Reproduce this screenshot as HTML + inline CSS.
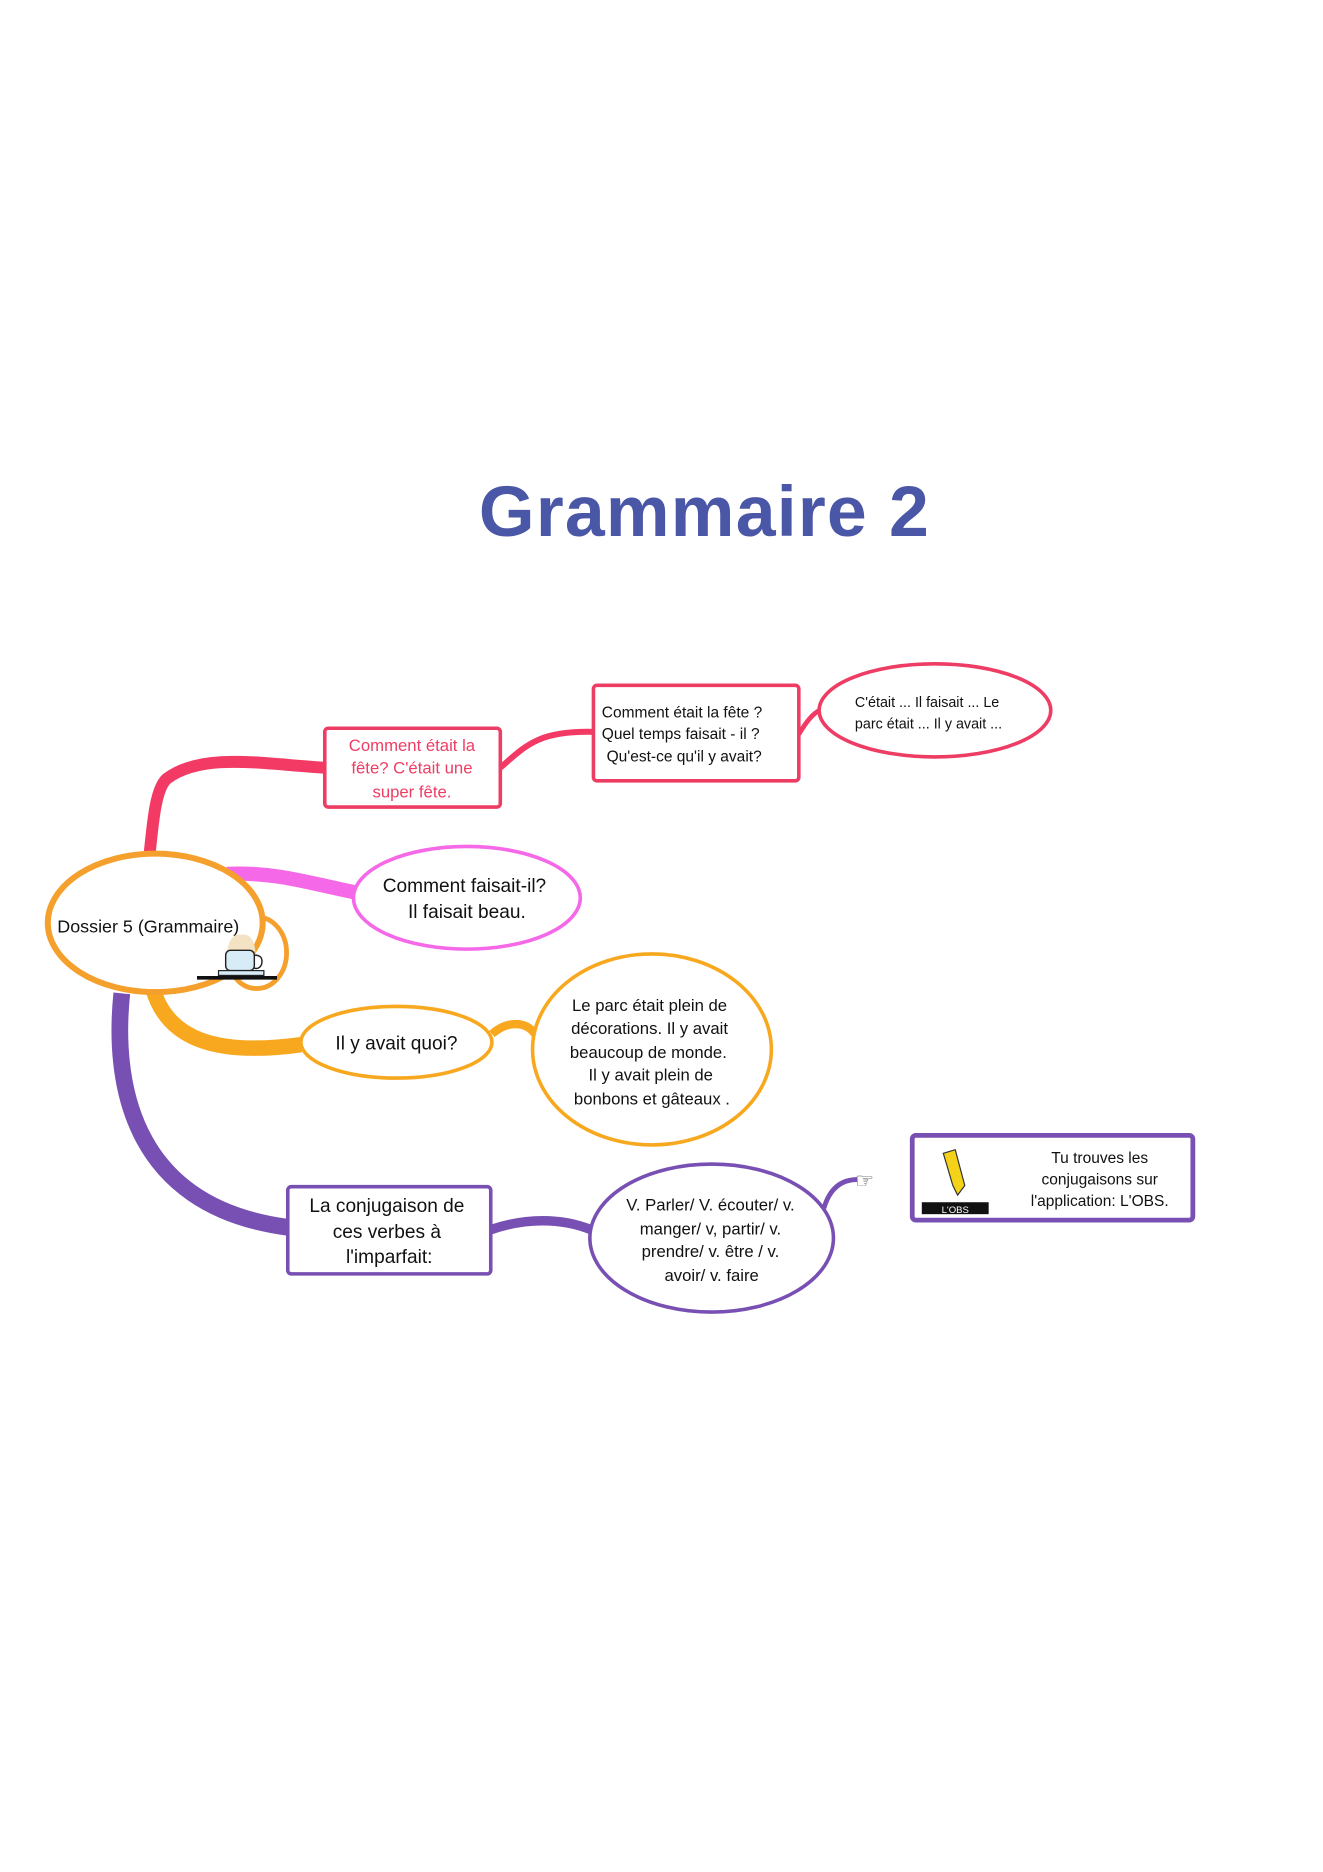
<!DOCTYPE html>
<html><head><meta charset="utf-8"><style>
html,body{margin:0;padding:0;background:#fff}
svg{display:block}
text{font-family:"Liberation Sans",sans-serif}
</style></head><body>
<svg width="1323" height="1872" viewBox="0 0 1108 1568" preserveAspectRatio="none" xmlns="http://www.w3.org/2000/svg">
<rect width="1108" height="1568" fill="#fff"/>
<text x="590" y="449" text-anchor="middle" font-size="60" font-weight="bold" fill="#4a56a6" letter-spacing="1">Grammaire 2</text>

<path d="M125,718 C128,690 130,660 140,652 C170,630 220,640 272,643" stroke="#f23a64" stroke-width="10" fill="none"/>
<path d="M419,643 C440,625 450,612 497,613" stroke="#f23a64" stroke-width="5" fill="none"/>
<path d="M669,615 C675,605 680,598 688,594" stroke="#f23a64" stroke-width="4" fill="none"/>
<path d="M190,732 C230,730 260,740 300,748" stroke="#f568e8" stroke-width="12" fill="none"/>
<path d="M128,828 C140,870 180,885 252,875" stroke="#f8a81e" stroke-width="13" fill="none"/>
<path d="M412,866 C425,855 440,855 448,866" stroke="#f8a81e" stroke-width="7" fill="none"/>
<path d="M102,832 C95,900 105,1010 241,1028" stroke="#7850b3" stroke-width="14" fill="none"/>
<path d="M411,1030 C440,1020 470,1020 495,1030" stroke="#7850b3" stroke-width="8" fill="none"/>
<path d="M690,1012 C695,995 705,988 718,988" stroke="#7850b3" stroke-width="4" fill="none"/>

<ellipse cx="215" cy="798" rx="25" ry="30" fill="#fff" stroke="#f5a02c" stroke-width="4"/>
<ellipse cx="130" cy="773" rx="90" ry="58" fill="#fff" stroke="#f5a02c" stroke-width="5"/>
<text x="48" y="781" font-size="15" fill="#111">Dossier 5 (Grammaire)</text>
<g>
<path d="M190,797 q3,-16 12,-14 q10,-2 12,14 z" fill="#f3e3c4"/>
<rect x="189" y="796" width="24" height="17" rx="4" fill="#d8ecf8" stroke="#222" stroke-width="1.2"/>
<path d="M213,800 q8,0 6,8 q-2,4 -6,3" fill="none" stroke="#222" stroke-width="1.2"/>
<rect x="183" y="813" width="38" height="4" fill="#d8ecf8" stroke="#222" stroke-width="1"/>
<line x1="165" y1="819" x2="232" y2="819" stroke="#111" stroke-width="3"/>
</g>

<rect x="272" y="610" width="147" height="66" rx="3" fill="#fff" stroke="#ee3d64" stroke-width="3"/>
<text font-size="14" fill="#ee3d64" text-anchor="middle"><tspan x="345" y="629">Comment était la</tspan><tspan x="345" y="648">fête? C'était une</tspan><tspan x="345" y="668">super fête.</tspan></text>
<rect x="497" y="574" width="172" height="80" rx="3" fill="#fff" stroke="#ee3d64" stroke-width="3"/>
<text font-size="13" fill="#111"><tspan x="504" y="601">Comment était la fête ?</tspan><tspan x="504" y="619">Quel temps faisait - il ?</tspan><tspan x="508" y="638">Qu'est-ce qu'il y avait?</tspan></text>
<ellipse cx="783" cy="595" rx="97" ry="39" fill="#fff" stroke="#ee3d64" stroke-width="3"/>
<text font-size="12" fill="#111"><tspan x="716" y="592">C'était ... Il faisait ... Le</tspan><tspan x="716" y="610">parc était ... Il y avait ...</tspan></text>

<ellipse cx="391" cy="752" rx="95" ry="43" fill="#fff" stroke="#f568e8" stroke-width="3"/>
<text font-size="16" fill="#111" text-anchor="middle"><tspan x="389" y="747">Comment faisait-il?</tspan><tspan x="391" y="769">Il faisait beau.</tspan></text>

<ellipse cx="332" cy="873" rx="80" ry="30" fill="#fff" stroke="#f8a81e" stroke-width="3"/>
<text x="332" y="879" font-size="16" fill="#111" text-anchor="middle">Il y avait quoi?</text>
<ellipse cx="546" cy="879" rx="100" ry="80" fill="#fff" stroke="#f8a81e" stroke-width="3"/>
<text font-size="14" fill="#111" text-anchor="middle"><tspan x="544" y="847">Le parc était plein de</tspan><tspan x="544" y="866">décorations. Il y avait</tspan><tspan x="543" y="886">beaucoup de monde.</tspan><tspan x="545" y="905">Il y avait plein de</tspan><tspan x="546" y="925">bonbons et gâteaux .</tspan></text>

<rect x="241" y="994" width="170" height="73" rx="3" fill="#fff" stroke="#7850b3" stroke-width="3"/>
<text font-size="16" fill="#111" text-anchor="middle"><tspan x="324" y="1015">La conjugaison de</tspan><tspan x="324" y="1037">ces verbes à</tspan><tspan x="326" y="1058">l'imparfait:</tspan></text>
<ellipse cx="596" cy="1037" rx="102" ry="62" fill="#fff" stroke="#7850b3" stroke-width="3"/>
<text font-size="14" fill="#111" text-anchor="middle"><tspan x="595" y="1014">V. Parler/ V. écouter/ v.</tspan><tspan x="595" y="1034">manger/ v, partir/ v.</tspan><tspan x="595" y="1053">prendre/ v. être / v.</tspan><tspan x="596" y="1073">avoir/ v. faire</tspan></text>
<text x="716" y="995" font-size="18" fill="#555">☞</text>
<rect x="764" y="951" width="235" height="71" rx="3" fill="#fff" stroke="#7850b3" stroke-width="4"/>
<path d="M790,966 l10,-3 l8,30 l-6,8 l-4,-8 z" fill="#f5d21a" stroke="#333" stroke-width="1"/>
<rect x="772" y="1007" width="56" height="10" fill="#111"/>
<text x="800" y="1016" font-size="8" fill="#fff" text-anchor="middle" font-family="Liberation Serif">L'OBS</text>
<text font-size="13" fill="#111" text-anchor="middle"><tspan x="921" y="974">Tu trouves les</tspan><tspan x="921" y="992">conjugaisons sur</tspan><tspan x="921" y="1010">l'application: L'OBS.</tspan></text>
</svg>
</body></html>
